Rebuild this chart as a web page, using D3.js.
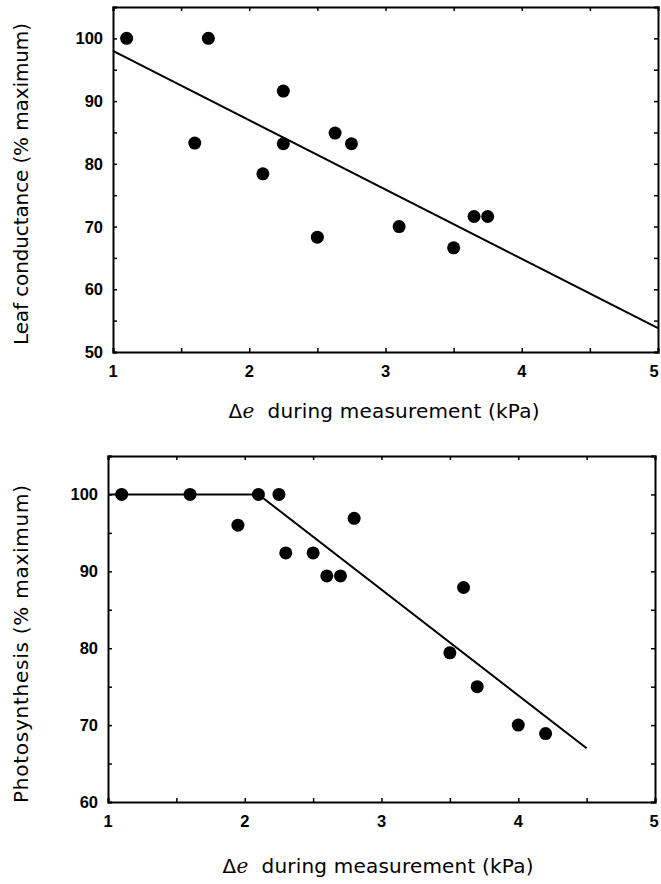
<!DOCTYPE html>
<html><head><meta charset="utf-8">
<script src="https://cdn.jsdelivr.net/npm/d3@7"></script>
<style>body{margin:0;background:#fff}</style>
</head><body>
<svg id="c" width="661" height="884"></svg>
<script>
// Top panel: leaf conductance
const condX = [1.1, 1.6, 1.7, 2.1, 2.25, 2.25, 2.5, 2.63, 2.75, 3.1, 3.5, 3.65, 3.75];
const condY = [100, 83.3, 100, 78.4, 91.6, 83.2, 68.3, 84.9, 83.2, 70.0, 66.6, 71.6, 71.6];
const condFitX = [1, 5];
const condFitY = [98.0, 53.8];
// Bottom panel: photosynthesis
const photoX = [1.1, 1.6, 1.95, 2.1, 2.25, 2.3, 2.5, 2.6, 2.7, 2.8, 3.5, 3.6, 3.7, 4.0, 4.2];
const photoY = [100, 100, 96.0, 100, 100, 92.4, 92.4, 89.4, 89.4, 96.9, 79.4, 87.9, 75.0, 70.0, 68.9];
const photoFitX = [1, 2.1, 4.5];
const photoFitY = [100, 100, 67.0];
const xTicks = [1, 2, 3, 4, 5];
const condYTicks = [50, 60, 70, 80, 90, 100];
const photoYTicks = [60, 70, 80, 90, 100];
const xTitle = "during measurement (kPa)";

const svg = d3.select("#c");
const font = "'Liberation Sans', Arial, sans-serif";
const tfont = "'DejaVu Sans', sans-serif";

function panel(cfg) {
  const x = d3.scaleLinear().domain([1, 5]).range([cfg.left, cfg.right]);
  const y = d3.scaleLinear().domain([cfg.ymin, 105]).range([cfg.bottom, cfg.top]);
  const g = svg.append("g");
  const minorX = d3.range(1, 5.01, 0.5);
  const minorY = d3.range(cfg.ymin, 105.01, 5);
  const tl = 4;
  g.append("g").attr("transform", `translate(0,${cfg.bottom})`)
    .call(d3.axisTop(x).tickValues(minorX).tickSize(tl).tickFormat(""));
  g.append("g").attr("transform", `translate(0,${cfg.top})`)
    .call(d3.axisBottom(x).tickValues(minorX).tickSize(tl).tickFormat(""));
  g.append("g").attr("transform", `translate(${cfg.left},0)`)
    .call(d3.axisRight(y).tickValues(minorY).tickSize(tl).tickFormat(""));
  g.append("g").attr("transform", `translate(${cfg.right},0)`)
    .call(d3.axisLeft(y).tickValues(minorY).tickSize(tl).tickFormat(""));
  g.selectAll(".domain").attr("stroke", "#000").attr("stroke-width", 2);
  g.selectAll(".tick line").attr("stroke", "#000").attr("stroke-width", 1.5);
  g.selectAll(".xl").data(xTicks).enter().append("text")
    .attr("x", d => Math.min(x(d), 654)).attr("y", cfg.bottom + 25)
    .attr("text-anchor", "middle").attr("font-family", font).attr("font-weight", "bold")
    .attr("font-size", 16.5).text(d => d);
  g.selectAll(".yl").data(cfg.yTicks).enter().append("text")
    .attr("x", cfg.left - 10).attr("y", d => y(d) + 6)
    .attr("text-anchor", "end").attr("font-family", font).attr("font-weight", "bold")
    .attr("font-size", 16.5).text(d => d);
  const fit = cfg.fx.map((v, i) => [v, cfg.fy[i]]);
  g.append("path").datum(fit)
    .attr("d", d3.line().x(d => x(d[0])).y(d => y(d[1])))
    .attr("fill", "none").attr("stroke", "#000").attr("stroke-width", 2);
  g.selectAll("circle").data(cfg.px.map((v, i) => [v, cfg.py[i]])).enter().append("circle")
    .attr("cx", d => x(d[0])).attr("cy", d => y(d[1])).attr("r", 6.5).attr("fill", "#000");
  const t = g.append("text").attr("x", cfg.xtx).attr("y", cfg.bottom + cfg.xty)
    .attr("text-anchor", "middle").attr("font-family", tfont).attr("font-size", 20)
    .attr("textLength", 311).attr("lengthAdjust", "spacing");
  t.append("tspan").text("Δ");
  t.append("tspan").attr("font-style", "italic").attr("font-family", "'DejaVu Serif', serif").text("e");
  t.append("tspan").text("\u00a0\u00a0" + xTitle);
  g.append("text").attr("transform", `translate(${cfg.ytx},${cfg.yty}) rotate(-90)`)
    .attr("text-anchor", "middle").attr("font-family", tfont).attr("font-size", 20)
    .attr("textLength", cfg.ylen).attr("lengthAdjust", "spacing")
    .text(cfg.ytitle);
}

panel({left: 113, right: 658, top: 7, bottom: 352, ymin: 50, yTicks: condYTicks,
  px: condX, py: condY, fx: condFitX, fy: condFitY,
  ytitle: "Leaf conductance (% maximum)", ytx: 28, yty: 184, ylen: 322, xtx: 384, xty: 66});
panel({left: 108, right: 655, top: 456, bottom: 802, ymin: 60, yTicks: photoYTicks,
  px: photoX, py: photoY, fx: photoFitX, fy: photoFitY,
  ytitle: "Photosynthesis (% maximum)", ytx: 28, yty: 644, ylen: 318, xtx: 378, xty: 71});
</script>
</body></html>
